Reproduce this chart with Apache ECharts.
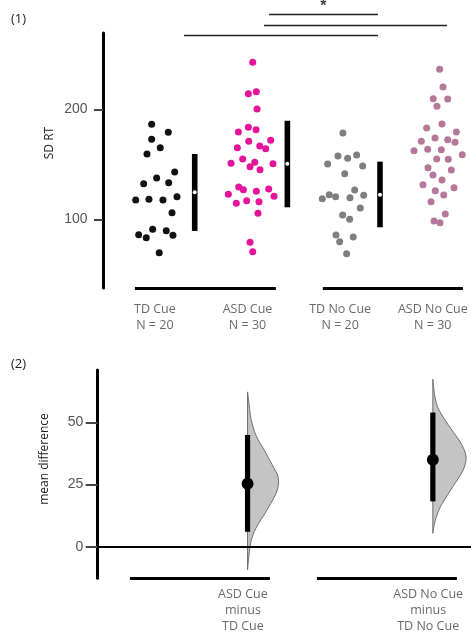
<!DOCTYPE html>
<html><head><meta charset="utf-8">
<script src="https://cdn.jsdelivr.net/npm/echarts@6/dist/echarts.min.js"></script>
<style>html,body{margin:0;padding:0;background:#fff}#c{width:471px;height:632px}</style>
</head><body><div id="c"></div>
<script>
// ---------- data ----------
const groups = ['TD Cue', 'ASD Cue', 'TD No Cue', 'ASD No Cue'];
const groupN = [20, 30, 20, 30];
const groupColors = ['#111111', '#e5139a', '#7f7f7f', '#b6789a'];

const tdCue = [186.4,179.1,172.7,165.1,159.4,143.0,137.5,132.4,133.3,117.5,118.2,117.5,120.5,106.0,90.9,89.6,86.0,83.3,85.5,69.6];
const tdCueJitter = [-0.035,0.145,-0.035,0.058,-0.085,0.214,0.019,-0.121,0.149,-0.207,-0.064,0.087,0.239,0.185,-0.024,0.123,-0.175,-0.093,0.195,0.047];

const asdCue = [242.7,214.2,216.0,200.3,183.6,181.5,179.4,171.8,170.9,165.1,166.6,164.2,154.8,151.8,150.9,150.5,147.8,145.1,129.4,126.9,127.5,122.7,125.5,120.9,114.5,116.9,116.0,105.5,79.1,70.5];
const asdCueJitter = [0.056,0.009,0.095,0.103,0.009,0.092,-0.099,0.250,0.013,-0.110,0.132,0.196,-0.052,0.078,-0.178,0.275,0.027,0.135,-0.095,-0.045,0.229,-0.207,0.095,0.286,-0.121,-0.009,0.124,0.113,0.027,0.056];

const tdNoCue = [178.5,157.5,155.5,158.5,150.3,148.5,141.5,126.6,122.4,120.5,118.7,119.6,121.8,110.3,103.9,100.0,85.7,83.9,79.6,68.7];
const tdNoCueJitter = [0.030,-0.024,0.081,0.178,-0.135,0.243,0.049,0.157,-0.118,-0.049,-0.193,0.106,0.254,0.217,0.027,0.103,-0.045,0.141,-0.005,0.070];

const asdNoCue = [236.4,220.3,209.6,209.4,202.7,186.6,183.0,179.4,173.9,170.9,172.4,170.0,162.4,163.6,163.3,158.7,154.8,154.5,146.9,144.8,140.3,135.7,131.5,128.7,126.0,122.1,116.0,104.8,98.5,96.9];
const asdNoCueJitter = [0.074,0.110,0.005,0.161,0.045,0.099,-0.066,0.254,0.024,-0.124,0.161,0.240,-0.203,-0.055,0.092,0.318,0.042,0.167,-0.052,0.200,0.002,0.099,-0.106,0.229,0.027,0.118,-0.019,0.135,0.013,0.078];

// mean +/- SD bars (visible groups)
const barMean = [124.5, 150.5, 122.4];
const barLow  = [89.4, 110.9, 92.7];
const barHigh = [159.4, 189.6, 152.4];

// significance brackets
const sigY    = [286.4, 276.9, 267.3];
const sigFrom = [1.232, 1.177, 0.314];
const sigTo   = [2.408, 3.153, 2.408];
const sigText = '*';

// baseline group lines
const topLineFrom = [-0.216, 1.813];
const topLineTo   = [1.306, 3.325];
const botLineFrom = [-0.270, 1.749];
const botLineTo   = [1.241, 3.260];

// mean differences
const diffLabels = ['ASD Cue\nminus\nTD Cue', 'ASD No Cue\nminus\nTD No Cue'];
const diffPos  = [1, 3];
const diffMean = [25.3, 34.9];
const diffLow  = [6.0, 18.2];
const diffHigh = [44.9, 53.9];

// bootstrap distributions (value, half-width in category units)
const dens1Values = [62.2, 56.8, 51.5, 44.8, 38.1, 31.4, 28.8, 26.1, 23.4, 20.7, 14.0, 7.4, 2.0, -6.0, -9.3];
const dens1Widths = [0, 0.018, 0.036, 0.09, 0.191, 0.288, 0.325, 0.335, 0.326, 0.299, 0.198, 0.09, 0.036, 0.008, 0];
const dens2Values = [67.3, 61.3, 55.9, 49.2, 42.5, 39.3, 35.9, 32.5, 29.2, 22.5, 15.8, 10.4, 5.4];
const dens2Widths = [0, 0.018, 0.054, 0.162, 0.288, 0.335, 0.359, 0.345, 0.305, 0.187, 0.079, 0.025, 0];

const ticksTop = [100, 200];
const ticksBottom = [0, 25, 50];

// ---------- layout ----------
const TOP_MIN = 37.5, TOP_MAX = 269.4;
const BOT_MIN = -12.7, BOT_MAX = 71;
const BAR_OFFSET = 0.43;
const catFont = 'Open Sans';
const tickFont = 'Liberation Sans';

const chart = echarts.init(document.getElementById('c'), null, {renderer: 'canvas'});

const swarmSets = [[tdCue, tdCueJitter], [asdCue, asdCueJitter], [tdNoCue, tdNoCueJitter], [asdNoCue, asdNoCueJitter]];
const series = [];

swarmSets.forEach(([vals, jit], g) => {
  series.push({
    type: 'scatter', xAxisIndex: 0, yAxisIndex: 0, symbolSize: 7,
    itemStyle: {color: groupColors[g], opacity: 1},
    data: vals.map((v, k) => [g + jit[k], v]),
    silent: true, z: 3
  });
});

// mean +/- SD bars
series.push({
  type: 'custom', xAxisIndex: 0, yAxisIndex: 0, z: 4, silent: true,
  data: barMean.map((m, k) => [k + BAR_OFFSET, barLow[k], barHigh[k], m]),
  encode: {x: 0, y: [1, 2]},
  renderItem: (params, api) => {
    const x = api.value(0);
    const p1 = api.coord([x, api.value(2)]);
    const p2 = api.coord([x, api.value(1)]);
    const pm = api.coord([x, api.value(3)]);
    return {type: 'group', children: [
      {type: 'rect', shape: {x: p1[0] - 2.8, y: p1[1], width: 5.6, height: p2[1] - p1[1]}, style: {fill: '#000'}},
      {type: 'circle', shape: {cx: pm[0], cy: pm[1], r: 2}, style: {fill: '#fff'}}
    ]};
  }
});

// top baseline lines
series.push({
  type: 'lines', coordinateSystem: 'cartesian2d', xAxisIndex: 0, yAxisIndex: 0, clip: false, silent: true,
  lineStyle: {color: '#000', width: 3, opacity: 1},
  data: topLineFrom.map((a, k) => ({coords: [[a, TOP_MIN], [topLineTo[k], TOP_MIN]]}))
});
// significance brackets
series.push({
  type: 'lines', coordinateSystem: 'cartesian2d', xAxisIndex: 0, yAxisIndex: 0, clip: false, silent: true,
  lineStyle: {color: '#222', width: 1.3, opacity: 1},
  data: sigY.map((y, k) => ({coords: [[sigFrom[k], y], [sigTo[k], y]]}))
});
series.push({
  type: 'scatter', xAxisIndex: 0, yAxisIndex: 0, clip: false, silent: true, symbolSize: 0,
  itemStyle: {color: 'transparent'},
  data: [[(sigFrom[0] + sigTo[0]) / 2, sigY[0]]],
  label: {show: true, position: 'top', distance: 0, formatter: sigText, color: '#111', fontSize: 16, fontWeight: 'bold', fontFamily: tickFont}
});
// category labels
series.push({
  type: 'scatter', xAxisIndex: 0, yAxisIndex: 0, clip: false, silent: true, symbolSize: 0,
  itemStyle: {color: 'transparent'},
  data: groups.map((g, k) => [k, TOP_MIN]),
  label: {show: true, position: 'bottom', distance: 13, align: 'center',
    formatter: p => groups[p.dataIndex] + '\nN = ' + groupN[p.dataIndex],
    color: '#444', fontSize: 12.5, lineHeight: 16, fontFamily: catFont}
});

// ---------- bottom panel ----------
const dens = [[dens1Values, dens1Widths], [dens2Values, dens2Widths]];
series.push({
  type: 'custom', xAxisIndex: 1, yAxisIndex: 1, z: 2, silent: true, clip: false,
  data: diffPos.map((x, k) => [x, diffMean[k]]),
  renderItem: (params, api) => {
    const [vals, ws] = dens[params.dataIndex];
    const x0 = api.value(0);
    const pts = vals.map((v, j) => api.coord([x0 + ws[j], v]));
    const top = api.coord([x0, vals[0]]);
    const bot = api.coord([x0, vals[vals.length - 1]]);
    return {type: 'group', children: [
      {type: 'polyline', shape: {points: pts, smooth: 0.3}, style: {fill: '#c4c4c4', stroke: '#6e6e6e', lineWidth: 1}},
      {type: 'line', shape: {x1: top[0], y1: top[1], x2: bot[0], y2: bot[1]}, style: {stroke: '#6e6e6e', lineWidth: 1}}
    ]};
  }
});
series.push({
  type: 'custom', xAxisIndex: 1, yAxisIndex: 1, z: 3, silent: true,
  data: diffPos.map((x, k) => [x, diffLow[k], diffHigh[k]]),
  encode: {x: 0, y: [1, 2]},
  renderItem: (params, api) => {
    const x = api.value(0);
    const p1 = api.coord([x, api.value(2)]);
    const p2 = api.coord([x, api.value(1)]);
    return {type: 'rect', shape: {x: p1[0] - 2.6, y: p1[1], width: 5.2, height: p2[1] - p1[1]}, style: {fill: '#000'}};
  }
});
series.push({
  type: 'scatter', xAxisIndex: 1, yAxisIndex: 1, z: 4, silent: true, symbolSize: 12,
  itemStyle: {color: '#000', opacity: 1},
  data: diffPos.map((x, k) => [x, diffMean[k]])
});
// zero line
series.push({
  type: 'lines', coordinateSystem: 'cartesian2d', xAxisIndex: 1, yAxisIndex: 1, clip: false, silent: true,
  lineStyle: {color: '#000', width: 2, opacity: 1},
  data: [{coords: [[-0.6175, 0], [3.412, 0]]}]
});
// bottom baseline lines
series.push({
  type: 'lines', coordinateSystem: 'cartesian2d', xAxisIndex: 1, yAxisIndex: 1, clip: false, silent: true,
  lineStyle: {color: '#000', width: 3, opacity: 1},
  data: botLineFrom.map((a, k) => ({coords: [[a, BOT_MIN], [botLineTo[k], BOT_MIN]]}))
});
series.push({
  type: 'scatter', xAxisIndex: 1, yAxisIndex: 1, clip: false, silent: true, symbolSize: 0,
  itemStyle: {color: 'transparent'},
  data: diffPos.map(x => [x - 0.05, BOT_MIN]),
  label: {show: true, position: 'bottom', distance: 8, align: 'center',
    formatter: p => diffLabels[p.dataIndex],
    color: '#444', fontSize: 12.5, lineHeight: 16, fontFamily: catFont}
});

const yAxisCommon = (min, max, ticks, tickLen, margin) => ({
  type: 'value', min, max,
  splitLine: {show: false},
  axisLine: {show: true, onZero: false, lineStyle: {color: '#000', width: 3}},
  axisTick: {show: true, customValues: ticks, length: tickLen, lineStyle: {color: '#444', width: 2}},
  axisLabel: {show: true, customValues: ticks, margin, color: '#555', fontSize: 14, fontFamily: tickFont}
});

chart.setOption({
  animation: false,
  backgroundColor: '#fff',
  grid: [
    {left: 103, top: 33, width: 365, height: 255, containLabel: false},
    {left: 97.7, top: 370, width: 373.3, height: 208.3, containLabel: false}
  ],
  xAxis: [
    {type: 'value', gridIndex: 0, min: -0.560, max: 3.380, show: false},
    {type: 'value', gridIndex: 1, min: -0.6175, max: 3.412, show: false}
  ],
  yAxis: [
    Object.assign({gridIndex: 0}, yAxisCommon(TOP_MIN, TOP_MAX, ticksTop, 9, 15.5)),
    Object.assign({gridIndex: 1}, yAxisCommon(BOT_MIN, BOT_MAX, ticksBottom, 12, 14.5))
  ],
  graphic: [
    {type: 'text', left: 11, top: 13, style: {text: '(1)', fontSize: 13, fontFamily: catFont, fill: '#222'}},
    {type: 'text', left: 11, top: 358, style: {text: '(2)', fontSize: 13, fontFamily: catFont, fill: '#222'}},
    {type: 'text', x: 50, y: 143, rotation: Math.PI / 2,
      style: {text: 'SD RT', fontSize: 12, fontFamily: catFont, fill: '#222', textAlign: 'center', textVerticalAlign: 'middle'}},
    {type: 'text', x: 45, y: 459, rotation: Math.PI / 2,
      style: {text: 'mean difference', fontSize: 12, fontFamily: catFont, fill: '#222', textAlign: 'center', textVerticalAlign: 'middle'}}
  ],
  series
});
</script></body></html>
